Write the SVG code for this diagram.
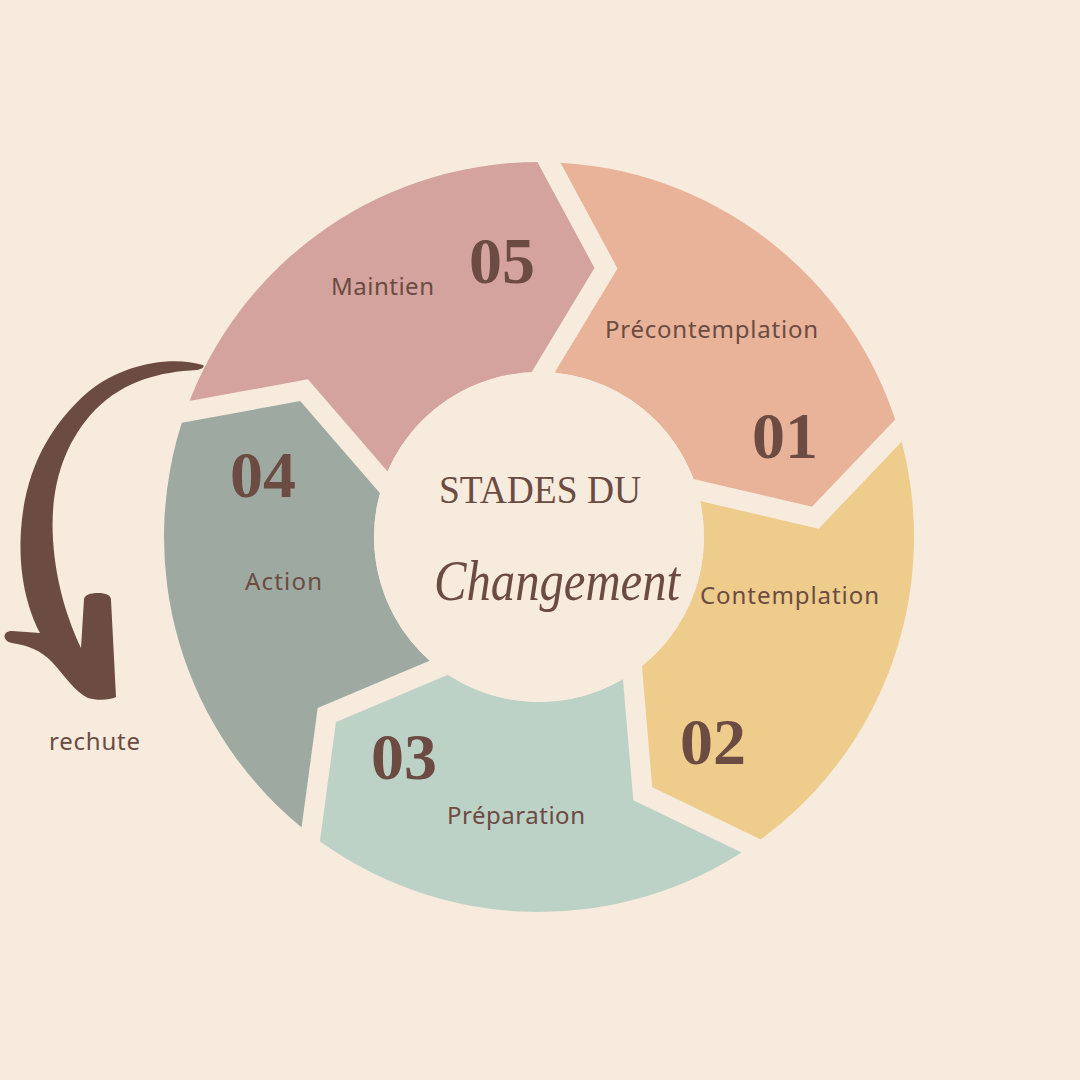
<svg xmlns="http://www.w3.org/2000/svg" width="1080" height="1080" viewBox="0 0 1080 1080">
<style>
.lbl{font-family:"Noto Sans","Lato",sans-serif;font-size:24px;fill:#6B4B42}
.num{font-family:"Liberation Serif","DejaVu Serif",serif;font-weight:bold;font-size:66px;fill:#6B4B42;text-anchor:middle}
.gap{fill:none;stroke:#F7EBDD;stroke-width:20;stroke-linejoin:miter}
</style>
<rect width="1080" height="1080" fill="#F7EBDD"/>
<g id="stage-05">
<path d="M185.51,411.82 A375,375 0 0 1 548.82,162.13 L606.01,268.23 L543.32,372.06 A165,165 0 0 0 383.46,481.92 L304.09,390.21 Z" fill="#D4A39D"/>
<text class="num" x="502" y="283">05</text>
<text class="lbl" x="331" y="295" textLength="103">Maintien</text>
</g>
<g id="stage-01">
<path d="M548.82,162.13 A375,375 0 0 1 898.56,430.49 L815.33,517.68 L697.21,490.14 A165,165 0 0 0 543.32,372.06 L606.01,268.23 Z" fill="#E8B399"/>
<text class="num" x="785" y="458">01</text>
<text class="lbl" x="605" y="338" textLength="213">Précontemplation</text>
</g>
<g id="stage-02">
<path d="M898.56,430.49 A375,375 0 0 1 751.40,846.05 L642.77,793.83 L632.46,672.98 A165,165 0 0 0 697.21,490.14 L815.33,517.68 Z" fill="#EECC8C"/>
<text class="num" x="713" y="764">02</text>
<text class="lbl" x="700" y="604" textLength="179">Contemplation</text>
</g>
<g id="stage-03">
<path d="M751.40,846.05 A375,375 0 0 1 310.71,834.51 L326.81,715.05 L438.55,667.90 A165,165 0 0 0 632.46,672.98 L642.77,793.83 Z" fill="#BDD2C6"/>
<text class="num" x="404" y="779">03</text>
<text class="lbl" x="447" y="824" textLength="138">Préparation</text>
</g>
<g id="stage-04">
<path d="M310.71,834.51 A375,375 0 0 1 185.51,411.82 L304.09,390.21 L383.46,481.92 A165,165 0 0 0 438.55,667.90 L326.81,715.05 Z" fill="#9EAAA1"/>
<text class="num" x="263" y="497">04</text>
<text class="lbl" x="245" y="590" textLength="77">Action</text>
</g>
<g id="connectors">
<polyline class="gap" points="540.24,146.21 606.01,268.23 533.92,387.63"/>
<polyline class="gap" points="911.04,417.41 815.33,517.68 679.49,486.01"/>
<polyline class="gap" points="767.69,853.88 642.77,793.83 630.91,654.85"/>
<polyline class="gap" points="308.29,852.43 326.81,715.05 455.31,660.83"/>
<polyline class="gap" points="167.72,415.06 304.09,390.21 395.37,495.68"/>
<path id="relapse-arrow" d="M203,365 C170,355 120,365 88,392 C50,425 25,470 21,530 C18,575 28,610 40,633 L12,631 C2,631 2,641 12,643 C30,646 40,650 52,662 C65,676 75,692 88,698 C98,701 110,700 116,697 L111,600 C111,595 106,593 98,593 C90,593 85,595 84,599 L81,648 C68,620 56,585 53,540 C50,490 62,445 95,410 C125,380 160,372 197,370 C202,369 205,367 203,365 Z" fill="#6B4B42"/>
</g>
<g id="center">
<circle cx="539" cy="537" r="165" fill="#F7EBDD"/>
<text x="439" y="503" textLength="202" lengthAdjust="spacingAndGlyphs" style="font-family:'Liberation Serif','DejaVu Serif',serif;font-size:40px;fill:#6B4B42">STADES DU</text>
<text x="434" y="600" textLength="246" lengthAdjust="spacingAndGlyphs" style="font-family:'Liberation Serif','DejaVu Serif',serif;font-style:italic;font-size:56px;fill:#6B4B42">Changement</text>
</g>
<g id="relapse-label">
<text class="lbl" x="49" y="750" textLength="91">rechute</text>
</g>
</svg>
